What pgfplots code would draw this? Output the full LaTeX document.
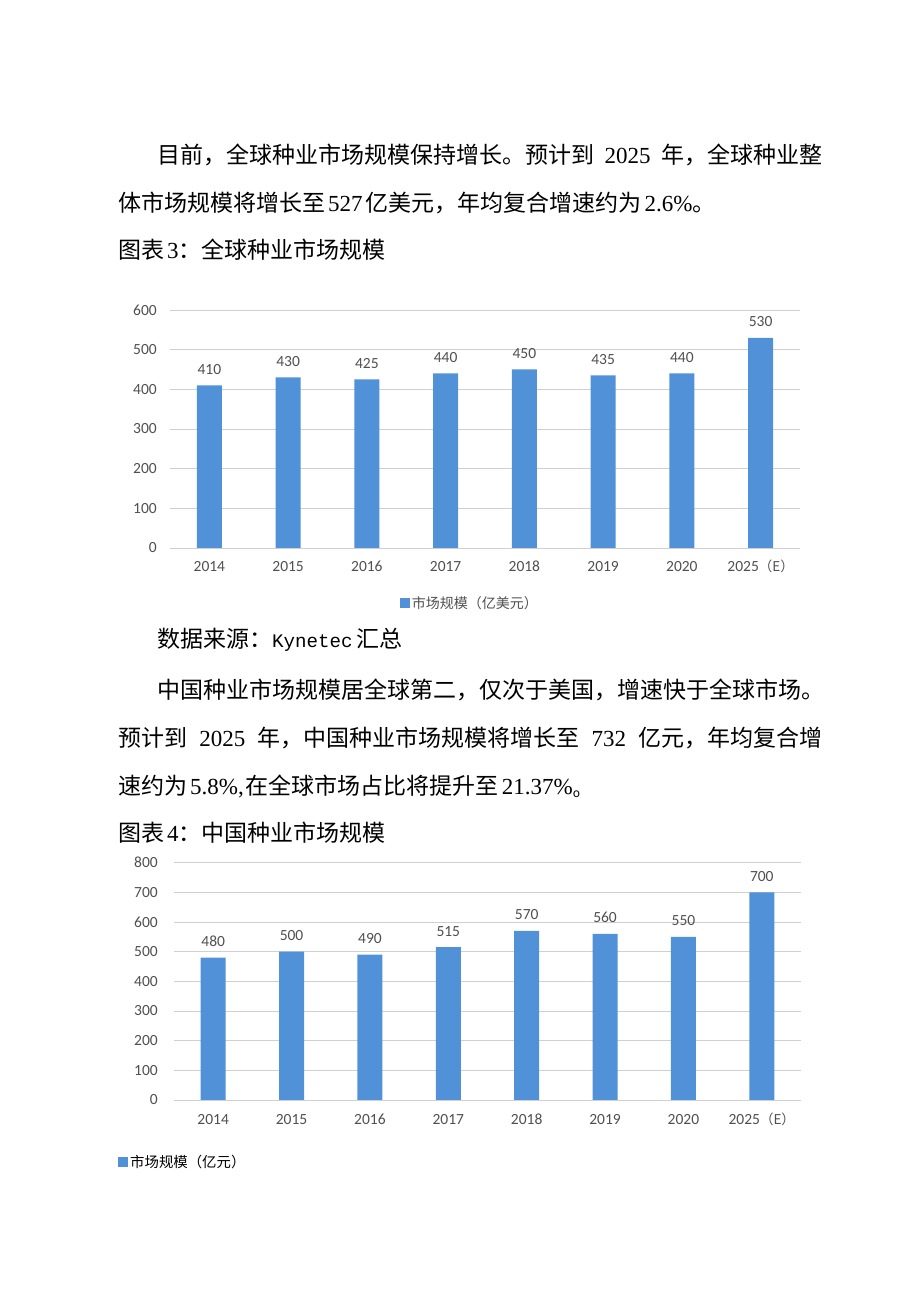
\documentclass[border=0pt]{standalone}
\usepackage{fontspec}
\usepackage{pgfplots}
\pgfplotsset{compat=1.18}
\newfontfamily\cjk{Noto Sans CJK SC}
\newfontfamily\lat{Liberation Serif}
\newfontfamily\mono[Scale=0.833]{Liberation Mono}
\newfontfamily\carlito{Carlito}
\definecolor{barblue}{RGB}{80,145,215}
\definecolor{labgray}{RGB}{80,80,80}
\definecolor{gridgray}{RGB}{208,208,208}
\newcommand\bodyfont{\cjk\fontsize{23}{23}\selectfont}
\newcommand\tickfont{\carlito\fontsize{15.5}{18}\selectfont}
\begin{document}
\begin{tikzpicture}
\fill[white] (0pt,0pt) rectangle (920pt,1301pt);
\path[use as bounding box] (0pt,0pt) rectangle (920pt,1301pt);
\tikzset{body/.style={anchor=west, inner sep=0pt, font=\bodyfont, text=black}}
% paragraph 1
\node[body] at (157pt,1146pt) {\makebox[665pt][l]{目前，全球种业市场规模保持增长。预计到\hfill{\lat 2025}\hfill 年，全球种业整}};
\node[body] at (118pt,1098pt) {体市场规模将增长至\hspace{3pt}{\lat 527}\hspace{3pt}亿美元，年均复合增速约为\hspace{3pt}{\lat 2.6\%}。};
\node[body] at (118pt,1051pt) {图表\hspace{3pt}{\lat 3}：全球种业市场规模};
% chart 1
\begin{axis}[
 at={(170pt,753pt)}, anchor=south west,
 scale only axis, width=630pt, height=238pt,
 xmin=-0.5, xmax=7.5, ymin=0, ymax=600,
 ytick={0,100,200,300,400,500,600},
 xtick={0,1,2,3,4,5,6,7},
 xticklabels={2014,2015,2016,2017,2018,2019,2020,{2025{\cjk\fontsize{13.5}{13.5}\selectfont（E）}}},
 axis line style={draw=none},
 major tick length=0pt,
 ymajorgrids, grid style={gridgray, line width=0.9pt},
 ticklabel style={font=\tickfont, text=labgray},
 /pgf/number format/assume math mode=true,
 yticklabel style={anchor=east, inner sep=0pt, xshift=-13pt},
 xticklabel style={anchor=base, inner sep=0pt, yshift=-24pt},
 ybar, bar width=25pt,
 nodes near coords,
 every node near coord/.append style={font=\tickfont, text=labgray, anchor=base, inner sep=0pt, yshift=11pt},
 legend style={at={(0.476,-0.231)}, anchor=center, draw=none, fill=none, font=\cjk\fontsize{14}{14}\selectfont, text=labgray, inner sep=0pt},
 legend image code/.code={\fill[barblue] (0pt,-5pt) rectangle (10pt,5pt);},
]
\addplot[fill=barblue, draw=none] coordinates {(0,410) (1,430) (2,425) (3,440) (4,450) (5,435) (6,440) (7,530)};
\legend{市场规模（亿美元）}
\end{axis}
% middle text
\node[body] at (157pt,661pt) {数据来源：{\mono Kynetec}\hspace{4pt}汇总};
\node[body] at (157pt,611pt) {中国种业市场规模居全球第二，仅次于美国，增速快于全球市场。};
\node[body] at (118pt,563pt) {\makebox[704pt][l]{预计到\hfill{\lat 2025}\hfill 年，中国种业市场规模将增长至\hfill{\lat 732}\hfill 亿元，年均复合增}};
\node[body] at (118pt,515pt) {速约为\hspace{3pt}{\lat 5.8\%,}\hspace{2pt}在全球市场占比将提升至\hspace{3pt}{\lat 21.37\%}\raisebox{-3pt}{\fontsize{12}{12}\selectfont o}};
\node[body] at (118pt,468pt) {图表\hspace{3pt}{\lat 4}：中国种业市场规模};
% chart 2
\begin{axis}[
 at={(174pt,201pt)}, anchor=south west,
 scale only axis, width=627pt, height=237.3pt,
 xmin=-0.5, xmax=7.5, ymin=0, ymax=800,
 ytick={0,100,200,300,400,500,600,700,800},
 xtick={0,1,2,3,4,5,6,7},
 xticklabels={2014,2015,2016,2017,2018,2019,2020,{2025{\cjk\fontsize{13.5}{13.5}\selectfont（E）}}},
 axis line style={draw=none},
 major tick length=0pt,
 ymajorgrids, grid style={gridgray, line width=0.9pt},
 ticklabel style={font=\tickfont, text=labgray},
 /pgf/number format/assume math mode=true,
 yticklabel style={anchor=east, inner sep=0pt, xshift=-16pt},
 xticklabel style={anchor=base, inner sep=0pt, yshift=-25pt},
 ybar, bar width=25pt,
 nodes near coords,
 every node near coord/.append style={font=\tickfont, text=labgray, anchor=base, inner sep=0pt, yshift=11pt},
 legend style={at={(-0.0893,-0.2613)}, anchor=west, draw=none, fill=none, font=\cjk\fontsize{14.4}{14.4}\selectfont, text=black, inner sep=0pt},
 legend image code/.code={\fill[barblue] (0pt,-5pt) rectangle (10pt,5pt);},
]
\addplot[fill=barblue, draw=none] coordinates {(0,480) (1,500) (2,490) (3,515) (4,570) (5,560) (6,550) (7,700)};
\legend{市场规模（亿元）}
\end{axis}
\end{tikzpicture}
\end{document}
